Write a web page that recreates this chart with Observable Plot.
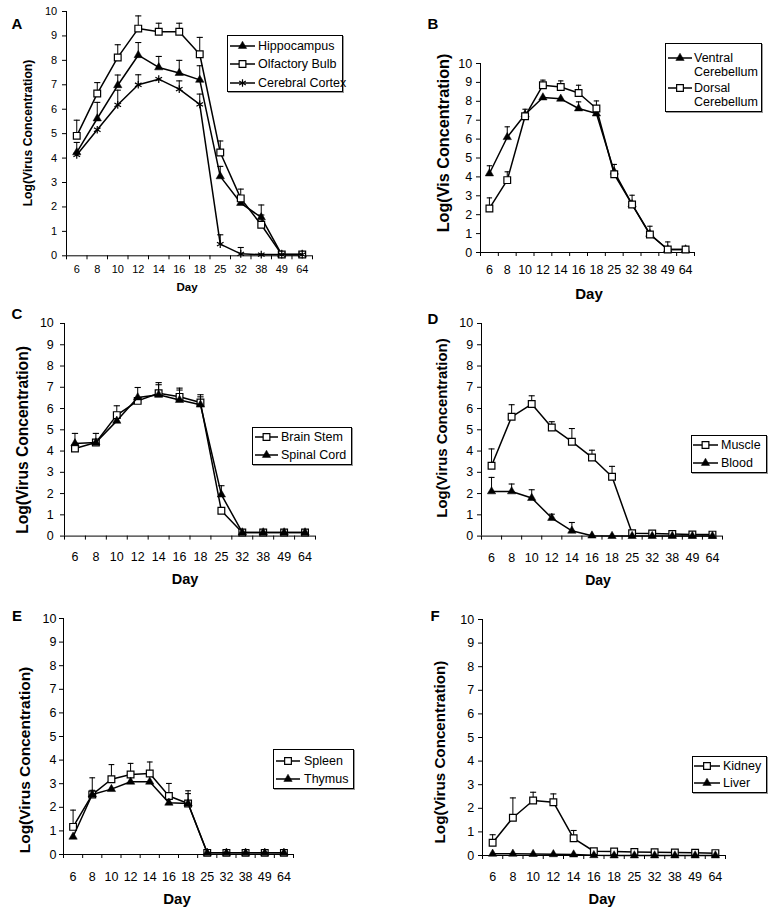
<!DOCTYPE html>
<html>
<head>
<meta charset="utf-8">
<script src="https://cdn.jsdelivr.net/npm/d3@7"></script>
<script src="https://cdn.jsdelivr.net/npm/@observablehq/plot@0.6"></script>
<style>
  html, body { margin: 0; padding: 0; background: white; }
  #fig { position: relative; width: 777px; height: 911px; overflow: hidden; font-family: "Liberation Sans", Arial, sans-serif; color: black; }
  .t { position: absolute; white-space: nowrap; line-height: 1; }
</style>
</head>
<body>
<div id="fig"></div>
<script>
// ---------- data ----------
const days = ["6", "8", "10", "12", "14", "16", "18", "25", "32", "38", "49", "64"];
const yTicks = [0, 1, 2, 3, 4, 5, 6, 7, 8, 9, 10];

// Panel A
const hippocampus    = [4.23, 5.62, 6.98, 8.21, 7.71, 7.48, 7.2, 3.25, 2.16, 1.57, 0.05, 0.05];
const hippocampusErr = [4.64, 6.28, 7.4, 8.73, 8.16, 8.0, 7.78, 3.66, null, 2.08, null, null];
const olfactory      = [4.91, 6.64, 8.12, 9.3, 9.17, 9.17, 8.25, 4.23, 2.35, 1.27, 0.05, 0.05];
const olfactoryErr   = [5.55, 7.09, 8.64, 9.82, 9.52, 9.52, 8.94, 4.7, 2.73, 1.67, null, null];
const cortex         = [4.13, 5.16, 6.18, 7.0, 7.23, 6.82, 6.2, 0.48, 0.08, 0.05, 0.05, 0.05];
const cortexErr      = [null, null, 6.78, 7.41, null, 7.16, 6.62, 0.86, 0.34, null, null, null];

// Panel B
const ventral    = [4.18, 6.1, 7.3, 8.2, 8.13, 7.62, 7.35, 4.27, 2.55, 0.98, 0.16, 0.16];
const ventralErr = [4.59, 6.65, 7.58, null, null, 7.97, null, 4.66, null, null, null, null];
const dorsal     = [2.33, 3.83, 7.21, 8.85, 8.76, 8.44, 7.62, 4.14, 2.54, 0.95, 0.16, 0.16];
const dorsalErr  = [2.89, 4.27, null, 9.12, 9.08, 8.85, 8.02, null, 3.03, 1.39, 0.56, null];

// Panel C
const brainStem     = [4.12, 4.4, 5.69, 6.36, 6.72, 6.55, 6.28, 1.19, 0.17, 0.17, 0.17, 0.17];
const brainStemErr  = [null, 4.83, 6.13, null, 7.22, 6.96, 6.65, null, null, null, null, null];
const spinalCord    = [4.36, 4.4, 5.42, 6.52, 6.65, 6.4, 6.18, 1.95, 0.17, 0.17, 0.17, 0.17];
const spinalCordErr = [4.83, null, null, 6.99, 7.12, 6.87, 6.55, 2.37, null, null, null, null];

// Panel D
const muscle    = [3.31, 5.61, 6.21, 5.11, 4.44, 3.7, 2.79, 0.13, 0.12, 0.1, 0.08, 0.07];
const muscleErr = [4.1, 6.18, 6.6, 5.38, 5.06, 4.04, 3.28, null, null, null, null, null];
const blood     = [2.1, 2.1, 1.79, 0.85, 0.25, 0.02, 0, 0, 0, 0, 0, 0];
const bloodErr  = [2.76, 2.45, 2.18, 1.03, 0.64, null, null, null, null, null, null, null];

// Panel E
const spleen    = [1.17, 2.54, 3.19, 3.39, 3.43, 2.48, 2.16, 0.07, 0.07, 0.07, 0.07, 0.07];
const spleenErr = [1.88, 3.25, 3.81, 3.86, 3.92, 3.01, 2.7, null, null, null, null, null];
const thymus    = [0.75, 2.54, 2.77, 3.08, 3.08, 2.19, 2.16, 0.07, 0.07, 0.07, 0.07, 0.07];
const thymusErr = [null, 2.72, null, null, null, null, 2.58, null, null, null, null, null];

// Panel F
const kidney    = [0.54, 1.6, 2.33, 2.26, 0.73, 0.18, 0.17, 0.15, 0.14, 0.13, 0.12, 0.1];
const kidneyErr = [0.88, 2.44, 2.68, 2.61, 1.06, null, null, null, null, null, null, null];
const liver     = [0.07, 0.07, 0.06, 0.05, 0.04, 0.01, 0, 0, 0, 0, 0, 0];
const liverErr  = [null, null, null, null, null, null, null, null, null, null, null, null];

// ---------- layout / style ----------
const fig = document.getElementById("fig");
const FONT = '"Liberation Sans", Arial, sans-serif';

const SYM = {
  square: { symbol: "square", r: 3.8, fill: "white", stroke: "black", strokeWidth: 1.2 },
  tri:    { symbol: "triangle", r: 3.1, fill: "black", stroke: "black", strokeWidth: 0.5 },
  star:   { symbol: "asterisk", r: 3.6, fill: "none", stroke: "black", strokeWidth: 1.2 }
};

const panels = [
  { letter: "A", letterPos: [17, 23], box: [66, 312, 10.7, 255], tickFs: 11, xPad: 9, yPad: 5.3,
    yTitle: "Log(Virus Concentration)", yTitlePos: [28, 133], yTitleFs: 12.2,
    dayPos: [187, 288], dayFs: 11.5,
    series: [
      { name: "Hippocampus", v: hippocampus, e: hippocampusErr, sym: "tri" },
      { name: "Olfactory Bulb", v: olfactory, e: olfactoryErr, sym: "square" },
      { name: "Cerebral Cortex", v: cortex, e: cortexErr, sym: "star" }
    ],
    legend: { box: [227, 35, 343, 92], line: [230, 255], textX: 258, ys: [46, 64, 83], fs: 12.5 } },
  { letter: "B", letterPos: [433, 23], box: [480, 694, 63.3, 252.3], tickFs: 12.5, xPad: 12.2, yPad: 4.3,
    yTitle: "Log(Vis Concentration)", yTitlePos: [443, 143], yTitleFs: 16.2,
    dayPos: [589, 293], dayFs: 15,
    series: [
      { name: ["Ventral", "Cerebellum"], v: ventral, e: ventralErr, sym: "tri" },
      { name: ["Dorsal", "Cerebellum"], v: dorsal, e: dorsalErr, sym: "square" }
    ],
    legend: { box: [665, 43, 762, 112], line: [668, 692], textX: 694, ys: [58, 88], fs: 12.5 } },
  { letter: "C", letterPos: [17, 313], box: [64, 315, 322.7, 535.3], tickFs: 12.5, xPad: 15.9, yPad: 6.7,
    yTitle: "Log(Virus Concentration)", yTitlePos: [23, 440], yTitleFs: 15.6,
    dayPos: [185, 579], dayFs: 14.5,
    series: [
      { name: "Brain Stem", v: brainStem, e: brainStemErr, sym: "square" },
      { name: "Spinal Cord", v: spinalCord, e: spinalCordErr, sym: "tri" }
    ],
    legend: { box: [252, 427, 352, 465], line: [255, 278], textX: 281, ys: [437, 455], fs: 12.5 } },
  { letter: "D", letterPos: [433, 318], box: [481, 722, 322.7, 535.3], tickFs: 12.5, xPad: 16.9, yPad: 4.4,
    yTitle: "Log(Virus Concentration)", yTitlePos: [442, 428], yTitleFs: 14.9,
    dayPos: [598, 580], dayFs: 14,
    series: [
      { name: "Muscle", v: muscle, e: muscleErr, sym: "square" },
      { name: "Blood", v: blood, e: bloodErr, sym: "tri" }
    ],
    legend: { box: [691, 435, 767, 473], line: [693, 718], textX: 721, ys: [445, 463], fs: 12.5 } },
  { letter: "E", letterPos: [17, 615], box: [63, 293, 618.3, 854.3], tickFs: 12.5, xPad: 17.2, yPad: 3,
    yTitle: "Log(Virus Concentration)", yTitlePos: [25, 760], yTitleFs: 15.5,
    dayPos: [177, 898], dayFs: 15,
    series: [
      { name: "Spleen", v: spleen, e: spleenErr, sym: "square" },
      { name: "Thymus", v: thymus, e: thymusErr, sym: "tri" }
    ],
    legend: { box: [273, 749, 354, 789], line: [276, 300], textX: 304, ys: [761, 779], fs: 12.5 } },
  { letter: "F", letterPos: [435, 615], box: [482, 725, 619, 855], tickFs: 12.5, xPad: 16.5, yPad: 4.4,
    yTitle: "Log(Virus Concentration)", yTitlePos: [440, 752], yTitleFs: 15.2,
    dayPos: [602, 899], dayFs: 14.7,
    series: [
      { name: "Kidney", v: kidney, e: kidneyErr, sym: "square" },
      { name: "Liver", v: liver, e: liverErr, sym: "tri" }
    ],
    legend: { box: [692, 756, 767, 793], line: [694, 720], textX: 723, ys: [766, 783], fs: 12.5 } }
];

// ---------- helpers ----------
function text(str, cx, cy, fs, weight, rotate) {
  const d = document.createElement("div");
  d.className = "t";
  d.textContent = str;
  d.style.left = cx + "px";
  d.style.top = cy + "px";
  d.style.fontSize = fs + "px";
  d.style.fontWeight = weight || "normal";
  d.style.transform = "translate(-50%,-50%)" + (rotate ? " rotate(-90deg)" : "");
  fig.append(d);
}

function seriesMarks(s) {
  const rows = s.v.map((v, i) => ({ i, v, e: s.e[i] }));
  const er = rows.filter(d => d.e != null);
  return [
    Plot.line(rows, { x: "i", y: "v", stroke: "black", strokeWidth: 1.5 }),
    Plot.ruleX(er, { x: "i", y1: "v", y2: "e", stroke: "black", strokeWidth: 1 }),
    Plot.link(er, { x1: d => d.i - 0.15, x2: d => d.i + 0.15, y1: "e", y2: "e", stroke: "black", strokeWidth: 1.1 }),
    Plot.dot(rows, { x: "i", y: "v", ...SYM[s.sym] })
  ];
}

function symbolPath(sym) {
  const c = SYM[sym];
  const type = sym === "square" ? d3.symbolSquare : sym === "tri" ? d3.symbolTriangle : d3.symbolAsterisk;
  return d3.symbol(type, Math.PI * c.r * c.r)();
}

function legend(p) {
  const L = p.legend;
  const box = document.createElement("div");
  box.style.cssText = `position:absolute;left:${L.box[0]}px;top:${L.box[1]}px;width:${L.box[2] - L.box[0]}px;height:${L.box[3] - L.box[1]}px;border:1px solid black;box-sizing:border-box;background:white;box-shadow:1px 1px 0 #999;`;
  fig.append(box);
  p.series.forEach((s, k) => {
    const y = L.ys[k];
    const w = L.line[1] - L.line[0];
    const svg = d3.create("svg").attr("width", w).attr("height", 12)
      .style("position", "absolute").style("left", L.line[0] + "px").style("top", (y - 6) + "px").style("overflow", "visible");
    svg.append("line").attr("x1", 0).attr("x2", w).attr("y1", 6).attr("y2", 6).attr("stroke", "black").attr("stroke-width", 1.5);
    const c = SYM[s.sym];
    svg.append("path").attr("d", symbolPath(s.sym)).attr("transform", `translate(${w / 2},6)`)
      .attr("fill", c.fill).attr("stroke", c.stroke).attr("stroke-width", c.strokeWidth);
    fig.append(svg.node());
    const lines = Array.isArray(s.name) ? s.name : [s.name];
    const lh = 14.5;
    const t = document.createElement("div");
    t.className = "t";
    t.style.left = L.textX + "px";
    t.style.top = (y - lh / 2) + "px";
    t.style.fontSize = L.fs + "px";
    t.style.lineHeight = lh + "px";
    t.innerHTML = lines.join("<br>");
    fig.append(t);
  });
}

// ---------- draw ----------
const idx = days.map((d, i) => i);
const bounds = d3.range(-0.5, days.length, 1);

panels.forEach(p => {
  const [x0, x1, yT, yB] = p.box;
  const mL = 60, mR = 10, mT = 10, mB = 40;
  const chart = Plot.plot({
    width: x1 - x0 + mL + mR,
    height: yB - yT + mT + mB,
    marginLeft: mL, marginRight: mR, marginTop: mT, marginBottom: mB,
    x: { domain: [-0.5, days.length - 0.5] },
    y: { domain: [0, 10] },
    style: { background: "transparent", overflow: "visible", maxWidth: "none", fontFamily: FONT, fontSize: p.tickFs + "px", color: "black" },
    marks: [
      Plot.axisY({ ticks: yTicks, tickSize: 4, tickPadding: p.yPad, tickFormat: d => String(d), label: null }),
      Plot.axisX({ ticks: bounds, tickSize: 4, tickFormat: () => "", label: null }),
      Plot.axisX({ ticks: idx, tickSize: 0, tickPadding: p.xPad, tickFormat: i => days[i], label: null }),
      Plot.ruleX([-0.5], { stroke: "black", strokeWidth: 1 }),
      Plot.ruleY([0], { stroke: "black", strokeWidth: 1 }),
      ...p.series.flatMap(seriesMarks)
    ]
  });
  chart.style.position = "absolute";
  chart.style.left = (x0 - mL) + "px";
  chart.style.top = (yT - mT) + "px";
  fig.append(chart);

  text(p.letter, p.letterPos[0], p.letterPos[1], 15, "bold");
  text(p.yTitle, p.yTitlePos[0], p.yTitlePos[1], p.yTitleFs, "bold", true);
  text("Day", p.dayPos[0], p.dayPos[1], p.dayFs, "bold");
  legend(p);
});
</script>
</body>
</html>
